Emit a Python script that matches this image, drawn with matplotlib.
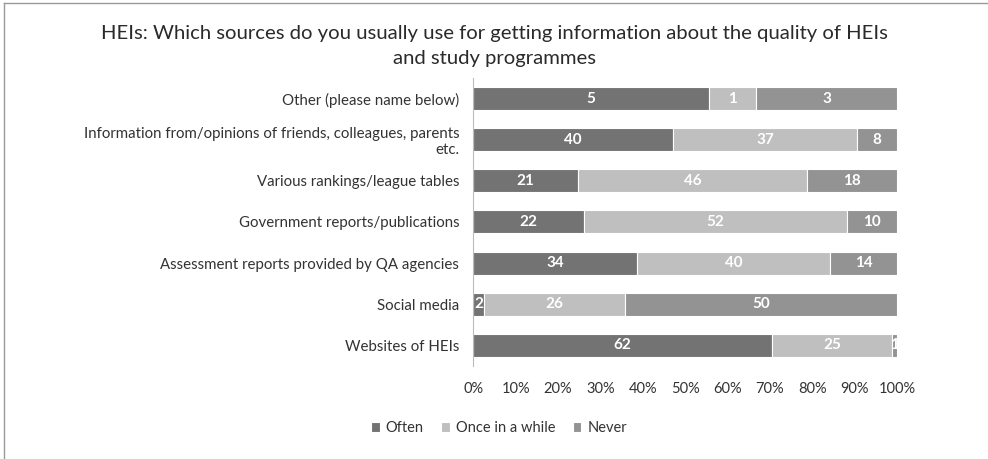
import matplotlib
matplotlib.use('Agg')
import matplotlib.pyplot as plt
import numpy as np

plt.rcParams['font.family'] = ['Lato', 'DejaVu Sans']

categories = [
    'Other (please name below)',
    'Information from/opinions of friends, colleagues, parents\netc.',
    'Various rankings/league tables',
    'Government reports/publications',
    'Assessment reports provided by QA agencies',
    'Social media',
    'Websites of HEIs',
]
often = [5, 40, 21, 22, 34, 2, 62]
once = [1, 37, 46, 52, 40, 26, 25]
never = [3, 8, 18, 10, 14, 50, 1]
series_names = ['Often', 'Once in a while', 'Never']
colors = ['#737373', '#bfbfbf', '#939393']

counts = np.array([often, once, never], dtype=float)
shares = counts / counts.sum(axis=0) * 100

fig = plt.figure(figsize=(9.88, 4.59), dpi=100)
ax = fig.add_axes([0.479, 0.203, 0.429, 0.627])

y = np.arange(len(categories))[::-1]
left = np.zeros(len(categories))
for k in range(3):
    bars = ax.barh(y, shares[k], left=left, height=0.56, color=colors[k],
                   edgecolor='white', linewidth=0.8, label=series_names[k])
    for i, b in enumerate(bars):
        cx = left[i] + shares[k][i] / 2
        ax.text(cx, y[i], str(int(counts[k][i])), ha='center', va='center',
                color='white', fontsize=11, fontweight='bold')
    left += shares[k]

ax.set_xlim(0, 100)
ax.set_ylim(-0.5, len(categories) - 0.5)
ax.set_yticks(y)
ax.set_yticklabels(categories, fontsize=10.8, color='#333333')
ax.set_xticks(np.arange(0, 101, 10))
ax.set_xticklabels([f'{v}%' for v in range(0, 101, 10)], fontsize=10.5, color='#333333')
ax.tick_params(length=0)
ax.tick_params(axis='y', pad=10)
ax.tick_params(axis='x', pad=12)
for s in ['top', 'right', 'bottom']:
    ax.spines[s].set_visible(False)
ax.spines['left'].set_color('#bbbbbb')

fig.text(0.5, 0.9, 'HEIs: Which sources do you usually use for getting information about the quality of HEIs\nand study programmes',
         ha='center', va='center', fontsize=14.6, color='#2a2a2a', linespacing=1.55)

leg = fig.legend(loc='center', bbox_to_anchor=(0.505, 0.067), ncol=3, frameon=False,
                 fontsize=10.5, handlelength=0.6, handleheight=0.6, handletextpad=0.4,
                 columnspacing=1.2)
for t in leg.get_texts():
    t.set_color('#333333')

# frame lines along the top and left edge
fig.add_artist(plt.Line2D([0.004, 1], [0.994, 0.994], transform=fig.transFigure, color='#999999', lw=1))
fig.add_artist(plt.Line2D([0.004, 0.004], [0, 0.994], transform=fig.transFigure, color='#999999', lw=1))

fig.savefig('out.png', dpi=100)
